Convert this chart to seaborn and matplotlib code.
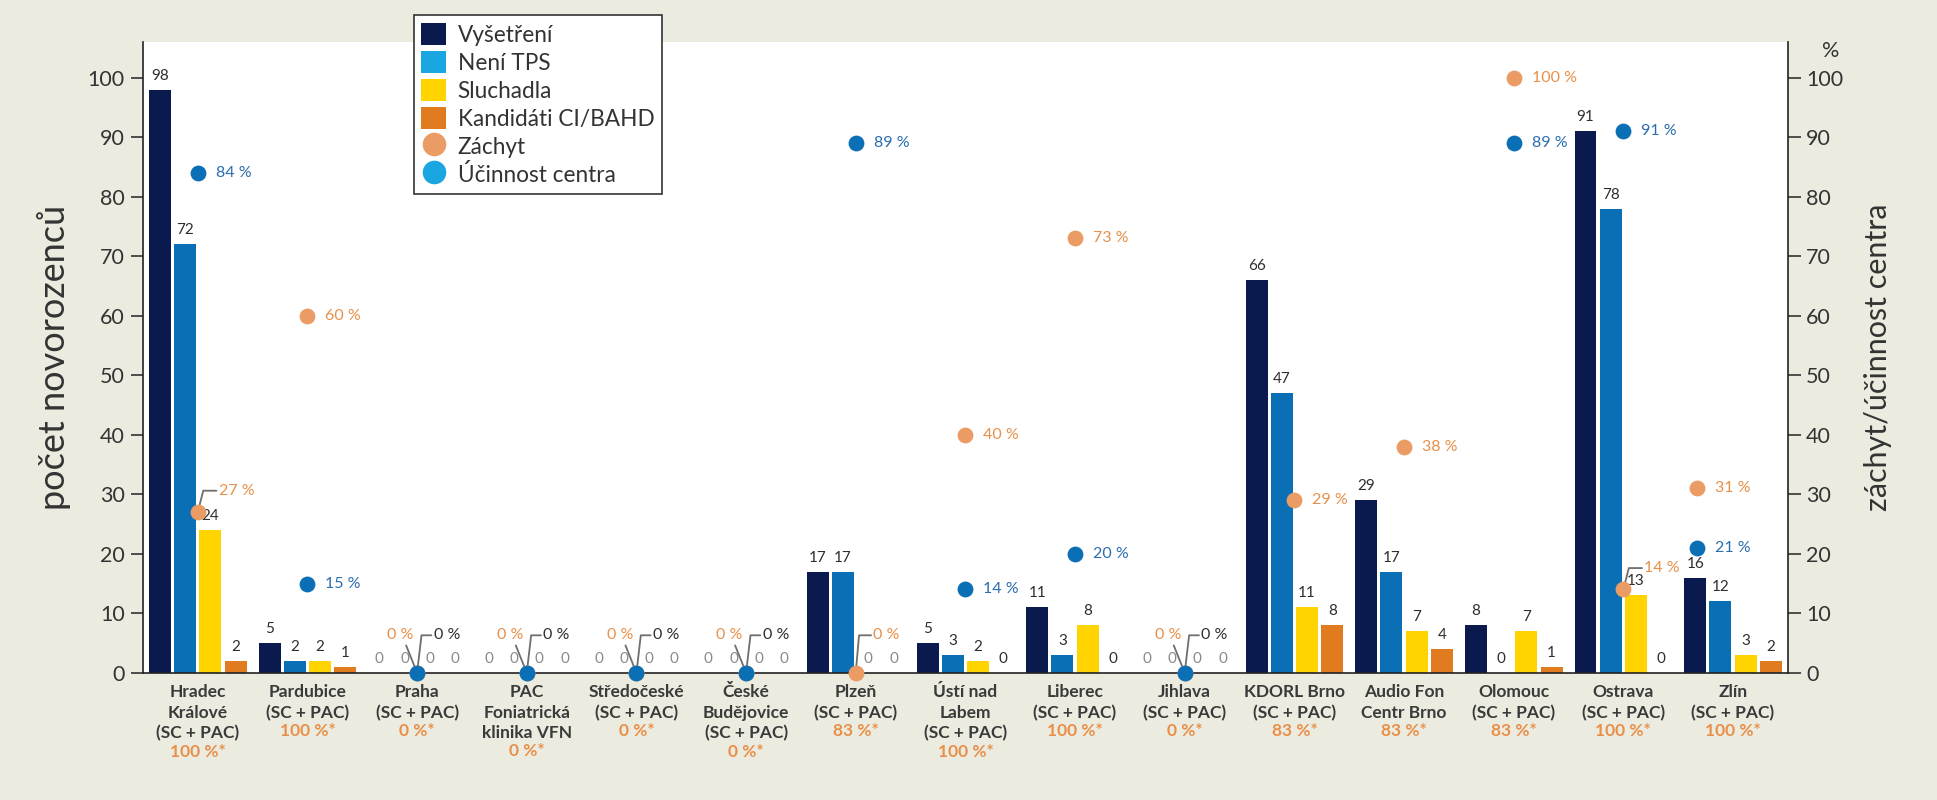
import numpy as np
import pandas as pd
import matplotlib
matplotlib.use("Agg")
import matplotlib.pyplot as plt
import matplotlib.transforms as mtransforms
from matplotlib.patches import Patch
from matplotlib.lines import Line2D
import seaborn as sns

# ---------------- data ----------------
categories = [
    "Hradec\nKrálové\n(SC + PAC)", "Pardubice\n(SC + PAC)", "Praha\n(SC + PAC)",
    "PAC\nFoniatrická\nklinika VFN", "Středočeské\n(SC + PAC)",
    "České\nBudějovice\n(SC + PAC)", "Plzeň\n(SC + PAC)",
    "Ústí nad\nLabem\n(SC + PAC)", "Liberec\n(SC + PAC)", "Jihlava\n(SC + PAC)",
    "KDORL Brno\n(SC + PAC)", "Audio Fon\nCentr Brno", "Olomouc\n(SC + PAC)",
    "Ostrava\n(SC + PAC)", "Zlín\n(SC + PAC)",
]
category_pct = ["100 %*", "100 %*", "0 %*", "0 %*", "0 %*", "0 %*", "83 %*",
                "100 %*", "100 %*", "0 %*", "83 %*", "83 %*", "83 %*",
                "100 %*", "100 %*"]
series_names = ["Vyšetření", "Není TPS", "Sluchadla", "Kandidáti CI/BAHD"]
vysetreni = [98, 5, 0, 0, 0, 0, 17, 5, 11, 0, 66, 29, 8, 91, 16]
neni_tps = [72, 2, 0, 0, 0, 0, 17, 3, 3, 0, 47, 17, 0, 78, 12]
sluchadla = [24, 2, 0, 0, 0, 0, 0, 2, 8, 0, 11, 7, 7, 13, 3]
kandidati = [2, 1, 0, 0, 0, 0, 0, 0, 0, 0, 8, 4, 1, 0, 2]
zachyt = [27, 60, 0, 0, 0, 0, 0, 40, 73, 0, 29, 38, 100, 14, 31]
ucinnost = [84, 15, 0, 0, 0, 0, 89, 14, 20, 0, np.nan, np.nan, 89, 91, 21]
y_ticks = list(range(0, 101, 10))

# ---------------- style ----------------
BG = "#ECEBE0"
NAVY = "#0B1A4E"
BLUE = "#0A6FB5"
YELLOW = "#FFD400"
ORANGE_BAR = "#E07B20"
DOT_ORANGE = "#EA9C64"
DOT_BLUE = "#0A6FB5"
LEG_BLUE = "#1AA6E0"
TXT_ORANGE = "#E8904A"
TXT_BLUE = "#2B6DAF"
TXT = "#2E2E2E"
GREY = "#8A8A8A"
LEADER = "#6E6E6E"
LBL_FS = 11.5
XT_FS = 12.5
XT_LS = 1.36

sns.set_style("white")
plt.rcParams["font.family"] = ["Lato", "DejaVu Sans"]

fig = plt.figure(figsize=(19.37, 8), dpi=100, facecolor=BG)
ax = fig.add_axes([0.0738, 0.159, 0.8492, 0.7885])
ax.set_facecolor("white")

n = len(categories)
series_values = [vysetreni, neni_tps, sluchadla, kandidati]
df = pd.DataFrame({
    "kategorie": np.tile(categories, len(series_names)),
    "serie": np.repeat(series_names, n),
    "pocet": np.concatenate(series_values),
})

sns.barplot(data=df, x="kategorie", y="pocet", hue="serie", order=categories,
            hue_order=series_names, palette=[NAVY, BLUE, YELLOW, ORANGE_BAR],
            width=0.92, gap=0.13, saturation=1, linewidth=0, legend=False,
            err_kws={"linewidth": 0}, ax=ax)

# bar value labels
for cont, vals in zip(ax.containers, series_values):
    texts = ax.bar_label(cont, labels=[str(v) for v in vals], padding=5,
                         fontsize=11, color=TXT)
    for t, v, z in zip(texts, vals, zachyt):
        if v == 0 and z == 0:
            t.set_color(GREY)

ymax = 106
ax.set_ylim(0, ymax)
ax.set_xlim(-0.5, n - 0.5)
ax.set_yticks(y_ticks)
ax.set_xticks(range(n))
ax.set_xticklabels(categories)
ax.tick_params(axis="x", length=0, pad=8)
for lbl in ax.get_xticklabels():
    lbl.set_fontsize(XT_FS)
    lbl.set_fontweight("bold")
    lbl.set_color("#3A3A3A")
    lbl.set_linespacing(XT_LS)
ax.tick_params(axis="y", direction="out", length=9, width=1.2, color="#333333",
               labelsize=15.5, labelcolor="#333333", pad=4, left=True)
ax.set_xlabel("")
ax.set_ylabel("počet novorozenců", fontsize=26, color="#333333")
ax.yaxis.set_label_coords(-0.044, 0.5)
for s in ["top", "right"]:
    ax.spines[s].set_visible(False)
for s in ["left", "bottom"]:
    ax.spines[s].set_color("#222222")
    ax.spines[s].set_linewidth(1.2)

# ---------------- secondary axis ----------------
ax2 = ax.twinx()
ax2.set_ylim(0, ymax)
ax2.set_yticks(y_ticks)
ax2.tick_params(axis="y", direction="out", length=9, width=1.2, color="#333333",
                labelsize=15.5, labelcolor="#333333", pad=4, right=True)
for s in ["top", "left", "bottom"]:
    ax2.spines[s].set_visible(False)
ax2.spines["right"].set_color("#222222")
ax2.spines["right"].set_linewidth(1.2)
ax2.set_ylabel("záchyt/účinnost centra", fontsize=22, color="#333333")
ax2.yaxis.set_label_coords(1.046, 0.5)
ax2.text(1.026, 104.5, "%", transform=mtransforms.blended_transform_factory(
    ax2.transAxes, ax2.transData), ha="center", va="center", fontsize=15.5,
    color="#333333")

dot_x = np.arange(n, dtype=float)
dot_x[-1] -= 0.33   # last group's dots drawn left of centre, as in the original

sns.scatterplot(x=dot_x, y=zachyt, color=DOT_ORANGE, s=130, linewidth=0,
                ax=ax2, legend=False, zorder=5)
sns.scatterplot(x=dot_x, y=ucinnost, color=DOT_BLUE, s=130, linewidth=0,
                ax=ax2, legend=False, zorder=6)
for coll in ax2.collections:
    coll.set_clip_on(False)
ax2.set_xlim(-0.5, n - 0.5)

lead_kw = dict(color=LEADER, lw=1.3, clip_on=False, zorder=4)
for i in range(n):
    x = dot_x[i]
    z, u = zachyt[i], ucinnost[i]
    if z == 0 and u == 0:
        ax2.plot([x, x - 0.1], [0, 4.6], **lead_kw)
        ax2.plot([x, x + 0.04, x + 0.13], [0, 6.3, 6.3], **lead_kw)
        ax2.text(x - 0.15, 6.3, "0 %", color=TXT_ORANGE, fontsize=LBL_FS,
                 ha="center", va="center")
        ax2.text(x + 0.15, 6.3, "0 %", color=TXT, fontsize=LBL_FS,
                 ha="left", va="center")
        continue
    if z == 0:
        ax2.plot([x, x + 0.03, x + 0.14], [0, 6.3, 6.3], **lead_kw)
        ax2.text(x + 0.16, 6.3, "0 %", color=TXT_ORANGE, fontsize=LBL_FS,
                 ha="left", va="center")
    elif i in (0, 13):
        ty = z + 3.6
        ax2.plot([x, x + 0.05, x + 0.17], [z, ty, ty], **lead_kw)
        ax2.text(x + 0.19, ty, f"{z} %", color=TXT_ORANGE, fontsize=LBL_FS,
                 ha="left", va="center")
    else:
        ax2.annotate(f"{z} %", xy=(x, z), xytext=(13, 0),
                     textcoords="offset points", color=TXT_ORANGE,
                     fontsize=LBL_FS, ha="left", va="center")
    if not np.isnan(u):
        ax2.annotate(f"{u:.0f} %", xy=(x, u), xytext=(13, 0),
                     textcoords="offset points", color=TXT_BLUE,
                     fontsize=LBL_FS, ha="left", va="center")

# orange percent line just below each category label (measured placement)
fig.canvas.draw()
renderer = fig.canvas.get_renderer()
ax_bottom = ax.get_window_extent(renderer).y0
for i, (lbl, pct) in enumerate(zip(ax.get_xticklabels(), category_pct)):
    bb = lbl.get_window_extent(renderer)
    off_pt = -(ax_bottom - bb.y0) * 72.0 / fig.dpi - 1.5
    ax.annotate(pct, xy=(i, 0), xycoords=("data", "axes fraction"),
                xytext=(0, off_pt), textcoords="offset points", ha="center",
                va="top", fontsize=XT_FS, fontweight="bold", color=TXT_ORANGE,
                annotation_clip=False)

# ---------------- legend ----------------
handles = [
    Patch(facecolor=NAVY, edgecolor="none"),
    Patch(facecolor=LEG_BLUE, edgecolor="none"),
    Patch(facecolor=YELLOW, edgecolor="none"),
    Patch(facecolor=ORANGE_BAR, edgecolor="none"),
    Line2D([], [], marker="o", linestyle="none", markersize=17,
           markerfacecolor=DOT_ORANGE, markeredgecolor="none"),
    Line2D([], [], marker="o", linestyle="none", markersize=17,
           markerfacecolor=LEG_BLUE, markeredgecolor="none"),
]
leg = fig.legend(handles, series_names + ["Záchyt", "Účinnost centra"],
                 loc="upper left", bbox_to_anchor=(0.2135, 0.981),
                 borderaxespad=0, fontsize=16.3, frameon=True, fancybox=False,
                 framealpha=1, facecolor="white", edgecolor="#333333",
                 handlelength=1.1, handleheight=1.1, handletextpad=0.5,
                 labelspacing=0.24, borderpad=0.35)
leg.get_frame().set_linewidth(1.2)
for t in leg.get_texts():
    t.set_color("#333333")

fig.savefig("out.png", dpi=100, facecolor=BG)
